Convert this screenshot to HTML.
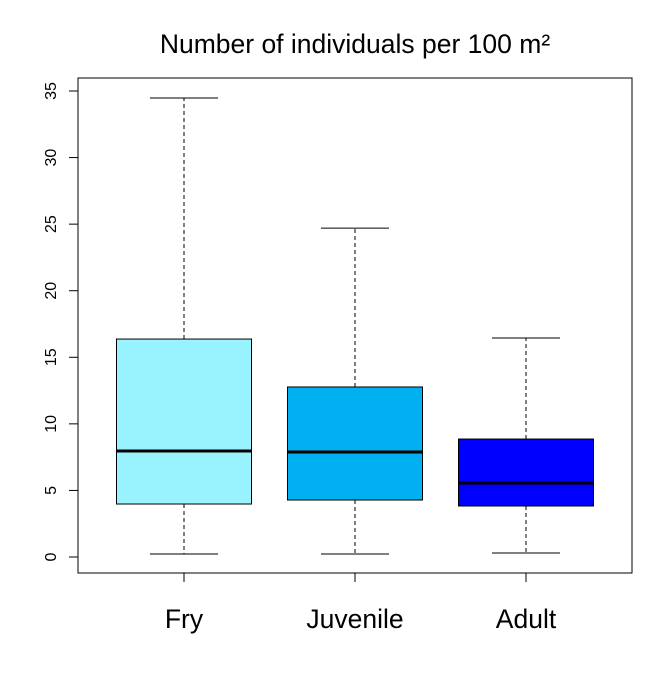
<!DOCTYPE html>
<html><head><meta charset="utf-8"><style>
body{margin:0;background:#fff}
svg text{font-family:"Liberation Sans",Arial,sans-serif}
</style></head><body>
<svg width="672" height="671" xmlns="http://www.w3.org/2000/svg">
<rect width="672" height="671" fill="#fff"/>
<text x="355" y="53" font-size="26.5" text-anchor="middle">Number of individuals per 100 m²</text>
<rect x="78" y="78" width="554" height="495" fill="none" stroke="#000"/>
<g id="axis"></g>
<g id="boxes"></g>
</svg>
<script>
const categories=["Fry","Juvenile","Adult"];
const mins=[0.23,0.23,0.3];
const q1s=[3.98,4.28,3.83];
const medians=[7.96,7.89,5.56];
const q3s=[16.37,12.77,8.86];
const maxs=[34.47,24.7,16.45];
const colors=["#99F3FF","#00B0F0","#0000FF"];
const yTicks=[0,5,10,15,20,25,30,35];
const NS="http://www.w3.org/2000/svg";
const y=v=>557-v*(466/35);
const x=i=>184+i*171;
const bw=135;
function mk(tag,attrs,parent,text){const e=document.createElementNS(NS,tag);for(const k in attrs)e.setAttribute(k,attrs[k]);if(text!==undefined)e.textContent=text;parent.appendChild(e);return e;}
const ax=document.getElementById('axis');
const yl=mk('line',{x1:78,x2:78,y1:y(0),y2:y(35),stroke:'#000'},ax);


yTicks.forEach(t=>{
 const l=mk('line',{x1:69,x2:78,y1:y(t),y2:y(t),stroke:'#000'},ax);
 
 
 const tx=mk('text',{x:0,y:0,'font-size':16,'text-anchor':'middle',transform:`translate(56,${y(t)}) rotate(-90)`},ax,String(t));
 
 
});
const bx=document.getElementById('boxes');
categories.forEach((c,i)=>{
 const g=mk('g',{},bx);
 
 
 const cx=x(i);
 mk('line',{x1:cx,x2:cx,y1:y(q3s[i]),y2:y(maxs[i]),stroke:'#000','stroke-dasharray':'4,3'},g);
 mk('line',{x1:cx,x2:cx,y1:y(q1s[i]),y2:y(mins[i]),stroke:'#000','stroke-dasharray':'4,3'},g);
 mk('line',{x1:cx-34,x2:cx+34,y1:y(maxs[i]),y2:y(maxs[i]),stroke:'#000'},g);
 mk('line',{x1:cx-34,x2:cx+34,y1:y(mins[i]),y2:y(mins[i]),stroke:'#000'},g);
 mk('rect',{x:cx-bw/2,y:y(q3s[i]),width:bw,height:y(q1s[i])-y(q3s[i]),fill:colors[i],stroke:'#000'},g);
 mk('line',{x1:cx-bw/2,x2:cx+bw/2,y1:y(medians[i]),y2:y(medians[i]),stroke:'#000','stroke-width':3},g);
 const tk=mk('line',{x1:cx,x2:cx,y1:573,y2:582,stroke:'#000'},g);
 
 
 const lb=mk('text',{x:cx,y:628,'font-size':26.5,'text-anchor':'middle'},g,c);
 
 
});
</script>
</body></html>
